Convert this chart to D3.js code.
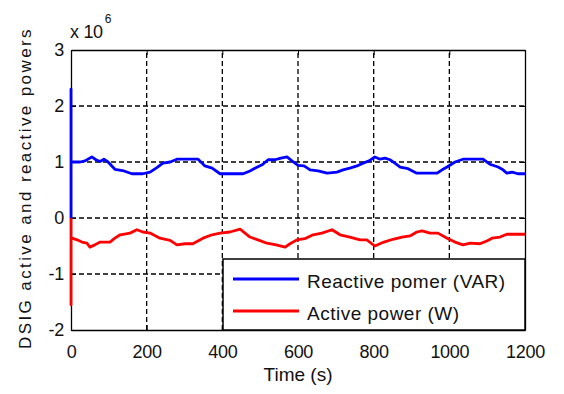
<!DOCTYPE html>
<html>
<head>
<meta charset="utf-8">
<script src="https://cdn.jsdelivr.net/npm/d3@7/dist/d3.min.js"></script>
<style>
  html, body { margin: 0; padding: 0; background: #fff; }
  svg text { font-family: Arial, "Liberation Sans", sans-serif; fill: #111; }
</style>
</head>
<body>
<svg id="chart" width="564" height="394"></svg>
<script>
// Reactive power (VAR), in units of 1e6, on its own time points (s)
const reactiveTime = [0, 0, 0, 3, 24, 37, 55, 66, 77, 87, 98, 116, 140, 161, 190, 209, 227, 243, 262, 280, 315, 336, 354, 373, 394, 455, 473, 486, 505, 521, 539, 555, 571, 584, 600, 616, 632, 653, 677, 703, 719, 737, 756, 772, 788, 803, 817, 830, 843, 856, 870, 891, 914, 944, 967, 981, 994, 1015, 1036, 1089, 1107, 1129, 1142, 1152, 1166, 1181, 1200];
const reactive = [0, 2.3, 1.0, 1.0, 1.0, 1.02, 1.09, 1.04, 1.01, 1.05, 1.0, 0.87, 0.84, 0.79, 0.79, 0.82, 0.9, 0.98, 1.0, 1.05, 1.05, 1.05, 0.93, 0.89, 0.79, 0.79, 0.84, 0.89, 0.95, 1.04, 1.04, 1.07, 1.09, 1.02, 0.94, 0.93, 0.86, 0.84, 0.8, 0.82, 0.86, 0.89, 0.93, 0.98, 1.02, 1.09, 1.05, 1.07, 1.04, 0.98, 0.91, 0.88, 0.8, 0.8, 0.8, 0.86, 0.91, 1.0, 1.05, 1.05, 0.96, 0.91, 0.86, 0.8, 0.82, 0.79, 0.79];

// Active power (W), in units of 1e6
const activeTime = [0, 0, 0, 3, 16, 29, 42, 50, 63, 77, 103, 116, 130, 156, 174, 190, 209, 235, 262, 280, 301, 322, 349, 373, 394, 420, 447, 460, 473, 494, 518, 542, 566, 579, 597, 618, 640, 663, 690, 711, 737, 764, 782, 803, 827, 851, 875, 896, 914, 928, 949, 970, 994, 1015, 1036, 1055, 1081, 1099, 1113, 1134, 1152, 1176, 1200];
const active = [0, -1.55, -0.39, -0.36, -0.39, -0.43, -0.45, -0.52, -0.48, -0.43, -0.43, -0.36, -0.3, -0.27, -0.21, -0.25, -0.27, -0.36, -0.4, -0.48, -0.46, -0.46, -0.36, -0.3, -0.27, -0.25, -0.2, -0.27, -0.34, -0.39, -0.45, -0.48, -0.52, -0.46, -0.39, -0.37, -0.3, -0.27, -0.21, -0.3, -0.34, -0.39, -0.39, -0.5, -0.43, -0.38, -0.34, -0.32, -0.25, -0.23, -0.27, -0.27, -0.36, -0.43, -0.48, -0.45, -0.46, -0.41, -0.36, -0.34, -0.29, -0.29, -0.29];

const xTicks = [0, 200, 400, 600, 800, 1000, 1200];
const yTicks = [-2, -1, 0, 1, 2, 3];
const seriesNames = ["Reactive pomer (VAR)", "Active power (W)"];
const seriesColors = ["#0000ff", "#ff0000"];

const svg = d3.select("#chart");
const margin = { left: 71, right: 39, top: 50, bottom: 64 };
const W = 564, H = 394;

const x = d3.scaleLinear().domain([0, 1200]).range([margin.left, W - margin.right]);
const y = d3.scaleLinear().domain([-2, 3]).range([H - margin.bottom, margin.top]);

// Dashed grid
const grid = svg.append("g");
grid.selectAll("line.vx").data(xTicks.slice(1, -1)).join("line")
  .attr("x1", d => x(d)).attr("x2", d => x(d))
  .attr("y1", y(-2)).attr("y2", y(3))
  .attr("stroke", "#000").attr("stroke-width", 1.3).attr("stroke-dasharray", "5,3");
grid.selectAll("line.hy").data(yTicks.slice(1, -1)).join("line")
  .attr("x1", x(0)).attr("x2", x(1200))
  .attr("y1", d => y(d)).attr("y2", d => y(d))
  .attr("stroke", "#000").attr("stroke-width", 1.3).attr("stroke-dasharray", "5,3");

// Axes with inward ticks (box on all four sides)
const tickFont = g => g.selectAll("text").attr("font-size", 18).attr("letter-spacing", "-0.3px").attr("fill", "#111");
const axBottom = svg.append("g").attr("transform", `translate(0,${y(-2)})`)
  .call(d3.axisBottom(x).tickValues(xTicks).tickSizeInner(-5).tickSizeOuter(0).tickPadding(15).tickFormat(d3.format("d")));
const axLeft = svg.append("g").attr("transform", `translate(${x(0)},0)`)
  .call(d3.axisLeft(y).tickValues(yTicks).tickSizeInner(-5).tickSizeOuter(0).tickPadding(7).tickFormat(d3.format("d")));
const axTop = svg.append("g").attr("transform", `translate(0,${y(3)})`)
  .call(d3.axisTop(x).tickValues(xTicks).tickSizeInner(-5).tickSizeOuter(0).tickFormat(""));
const axRight = svg.append("g").attr("transform", `translate(${x(1200)},0)`)
  .call(d3.axisRight(y).tickValues(yTicks).tickSizeInner(-5).tickSizeOuter(0).tickFormat(""));
[axBottom, axLeft, axTop, axRight].forEach(a => {
  a.select(".domain").attr("stroke", "#000").attr("stroke-width", 1.3);
  a.selectAll(".tick line").attr("stroke", "#000");
  a.call(tickFont);
});
axLeft.selectAll("text").text(d => d < 0 ? "-" + Math.abs(d) : d);

// Traces
const lineGen = (ts, vs) => d3.line().x((d, i) => x(ts[i])).y(d => y(d))(vs);
svg.append("path").attr("d", lineGen(reactiveTime, reactive))
  .attr("fill", "none").attr("stroke", seriesColors[0]).attr("stroke-width", 2.8).attr("stroke-linejoin", "round");
svg.append("path").attr("d", lineGen(activeTime, active))
  .attr("fill", "none").attr("stroke", seriesColors[1]).attr("stroke-width", 2.8).attr("stroke-linejoin", "round");

// Legend, lower right
const lg = svg.append("g");
lg.append("rect").attr("x", 223).attr("y", 259).attr("width", x(1200) - 223).attr("height", y(-2) - 259)
  .attr("fill", "#fff").attr("stroke", "#000").attr("stroke-width", 1.5);
seriesNames.forEach((name, i) => {
  const yy = 279 + i * 32;
  lg.append("line").attr("x1", 233).attr("x2", 299).attr("y1", yy).attr("y2", yy)
    .attr("stroke", seriesColors[i]).attr("stroke-width", 3);
  lg.append("text").attr("x", 307).attr("y", yy + 8.5)
    .attr("font-size", 19).attr("letter-spacing", "0.5px").text(name);
});

// Exponent marker
const ex = svg.append("text").attr("x", 70).attr("y", 38).attr("font-size", 18).attr("letter-spacing", "-0.3px");
ex.append("tspan").text("x 10");
ex.append("tspan").attr("font-size", 12).attr("dy", -15).attr("dx", 2).text("6");

// Axis titles
svg.append("text").attr("x", x(600)).attr("y", 381).attr("text-anchor", "middle")
  .attr("font-size", 19).attr("letter-spacing", "0px").text("Time (s)");
svg.append("text").attr("transform", `translate(31,${(y(3) + y(-2)) / 2 - 2}) rotate(-90)`)
  .attr("text-anchor", "middle").attr("font-size", 17).attr("letter-spacing", "2.4px")
  .text("DSIG active and reactive powers");
</script>
</body>
</html>
